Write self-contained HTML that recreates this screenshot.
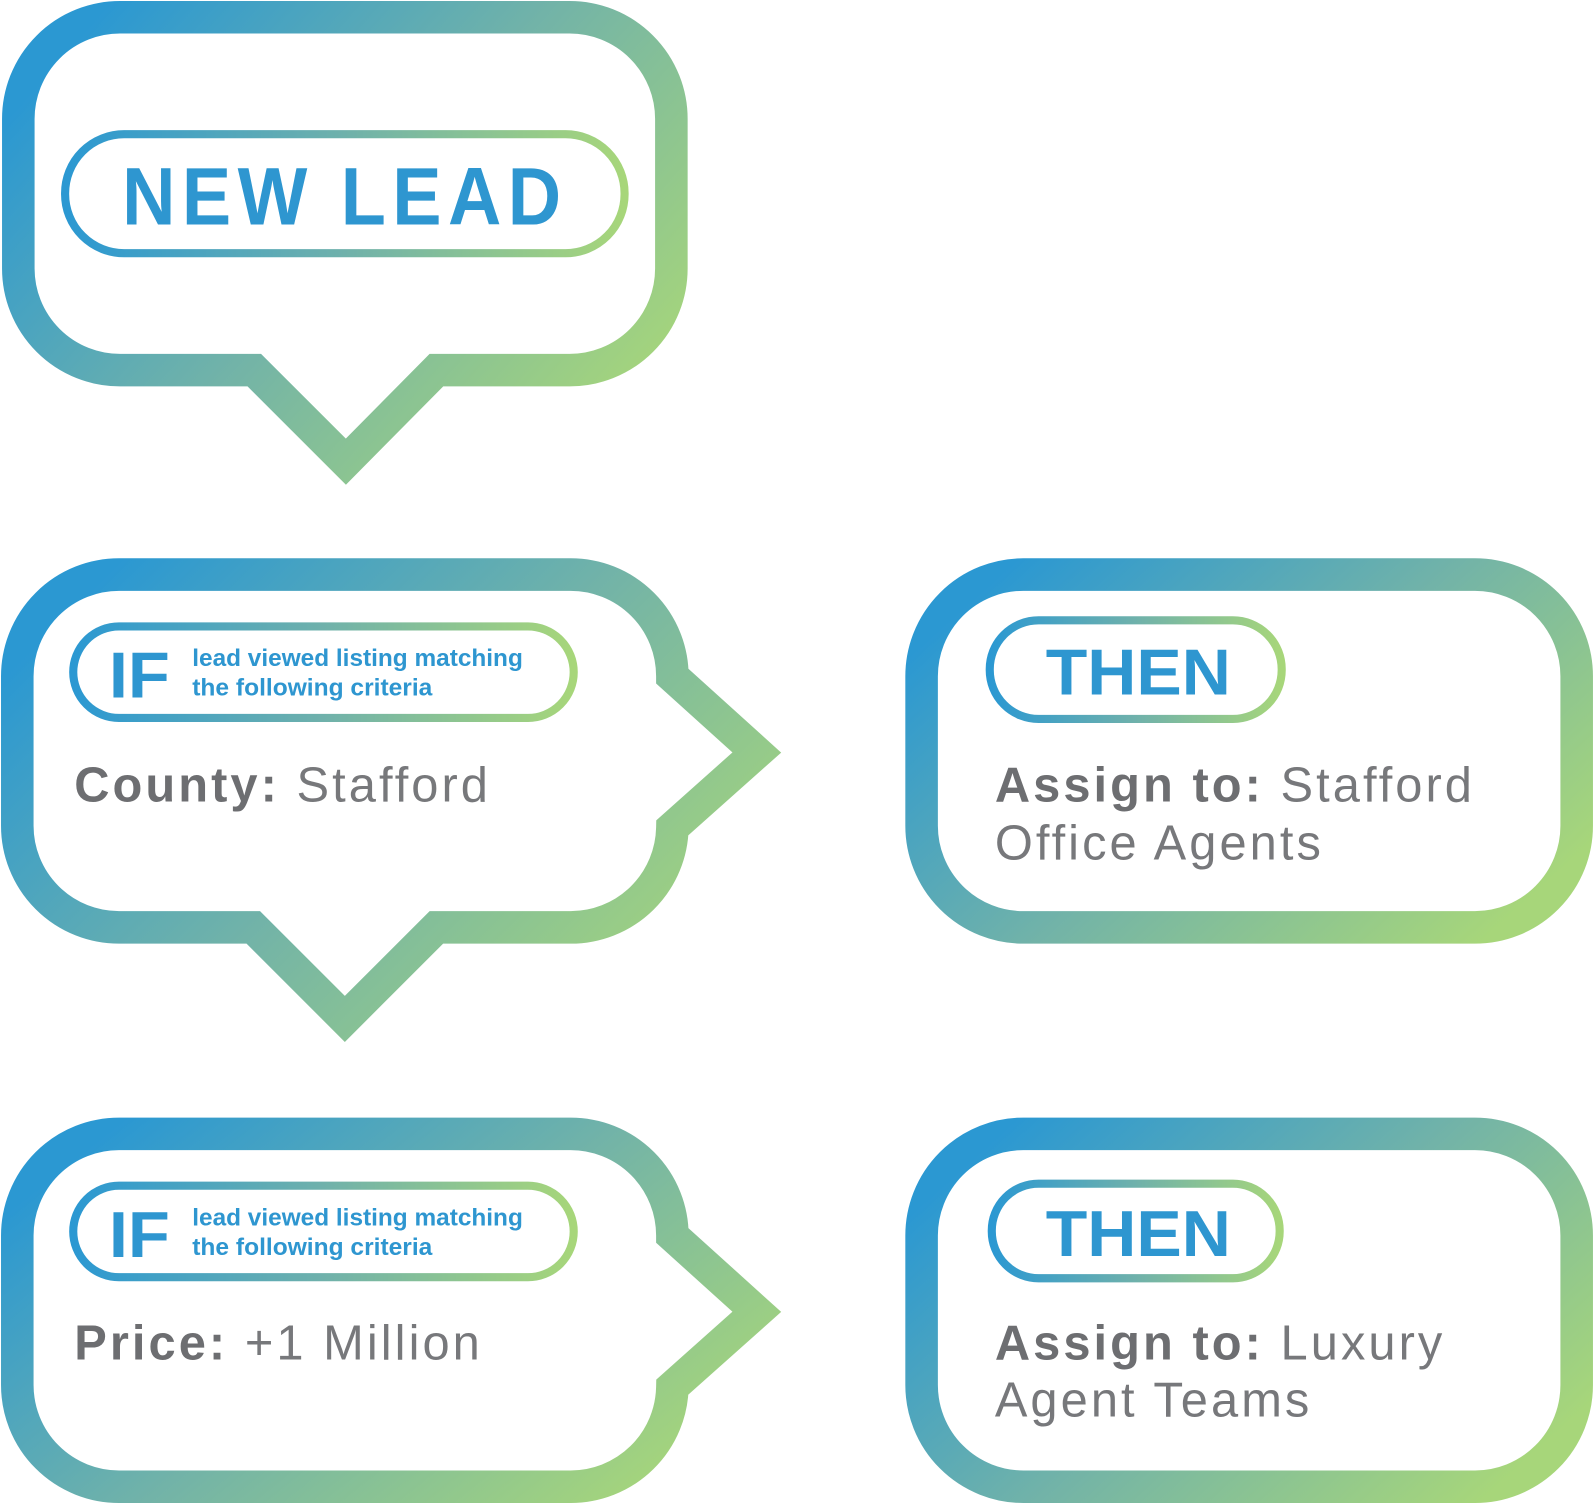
<!DOCTYPE html>
<html><head><meta charset="utf-8"><style>
html,body{margin:0;padding:0;background:#fff;width:1595px;height:1504px;overflow:hidden}
svg{display:block}
text{font-family:"Liberation Sans",sans-serif}
</style></head><body>
<svg width="1595" height="1504" viewBox="0 0 1568 1479" preserveAspectRatio="none" xmlns="http://www.w3.org/2000/svg">
<defs>
<linearGradient id="g" x1="0" y1="0.2" x2="1" y2="0.8">
<stop offset="0" stop-color="#2b98d2"/><stop offset="0.5" stop-color="#72b3a8"/><stop offset="1" stop-color="#a7d67a"/>
</linearGradient>
<linearGradient id="h" x1="0" y1="0" x2="1" y2="0">
<stop offset="0" stop-color="#2b98d2"/><stop offset="0.5" stop-color="#6fb1ab"/><stop offset="1" stop-color="#a7d67a"/>
</linearGradient>
</defs>
<g fill="none" stroke="url(#g)" stroke-width="32" stroke-linejoin="miter">
<path d="M118,17 H560 A100,100 0 0 1 660,117 V264 A100,100 0 0 1 560,364 H429 L340,454 L250,364 H118 A100,100 0 0 1 18,264 V117 A100,100 0 0 1 118,17 Z"/>
<path d="M117,565 H561 A100,100 0 0 1 661,665 L744,740 L661,814 A100,100 0 0 1 561,912 H429 L339,1002 L249,912 H117 A100,100 0 0 1 17,812 V665 A100,100 0 0 1 117,565 Z"/>
<path d="M117,1115 H561 A100,100 0 0 1 661,1215 L744,1290 L661,1364 A100,100 0 0 1 561,1462 H117 A100,100 0 0 1 17,1362 V1215 A100,100 0 0 1 117,1115 Z"/>
<rect x="906" y="565" width="644" height="347" rx="100"/>
<rect x="906" y="1115" width="644" height="347" rx="100"/>
</g>
<g fill="none" stroke="url(#h)" stroke-width="8">
<rect x="64" y="132" width="550" height="117" rx="58"/>
<rect x="72" y="616" width="492" height="90" rx="45"/>
<rect x="72" y="1166" width="492" height="90" rx="45"/>
<rect x="973" y="610" width="287" height="97" rx="48"/>
<rect x="975" y="1164" width="283" height="93" rx="46"/>
</g>
<g fill="#2e96d0" font-weight="bold">
<text x="120" y="221" font-size="80" letter-spacing="7" textLength="438" lengthAdjust="spacingAndGlyphs">NEW LEAD</text>
<text x="107" y="686" font-size="64" textLength="60" lengthAdjust="spacingAndGlyphs">IF</text>
<text x="189" y="655" font-size="24" textLength="325" lengthAdjust="spacingAndGlyphs">lead viewed listing matching</text>
<text x="189" y="684" font-size="24" textLength="236" lengthAdjust="spacingAndGlyphs">the following criteria</text>
<text x="107" y="1236" font-size="64" textLength="60" lengthAdjust="spacingAndGlyphs">IF</text>
<text x="189" y="1205" font-size="24" textLength="325" lengthAdjust="spacingAndGlyphs">lead viewed listing matching</text>
<text x="189" y="1234" font-size="24" textLength="236" lengthAdjust="spacingAndGlyphs">the following criteria</text>
<text x="1028" y="683" font-size="64" textLength="182" lengthAdjust="spacingAndGlyphs">THEN</text>
<text x="1028" y="1235" font-size="64" textLength="182" lengthAdjust="spacingAndGlyphs">THEN</text>
</g>
<g fill="#6d6e71" font-size="48">
<text x="73" y="788" letter-spacing="3"><tspan font-weight="bold">County:</tspan> <tspan fill="#77787b">Stafford</tspan></text>
<text x="73" y="1337" letter-spacing="3"><tspan font-weight="bold">Price:</tspan> <tspan fill="#77787b">+1 Million</tspan></text>
<text x="978" y="788" letter-spacing="3"><tspan font-weight="bold">Assign to:</tspan> <tspan fill="#77787b">Stafford</tspan></text>
<text x="978" y="845" letter-spacing="3" fill="#77787b">Office Agents</text>
<text x="978" y="1337" letter-spacing="3"><tspan font-weight="bold">Assign to:</tspan> <tspan fill="#77787b">Luxury</tspan></text>
<text x="978" y="1393" letter-spacing="3" fill="#77787b">Agent Teams</text>
</g>
</svg>
</body></html>
